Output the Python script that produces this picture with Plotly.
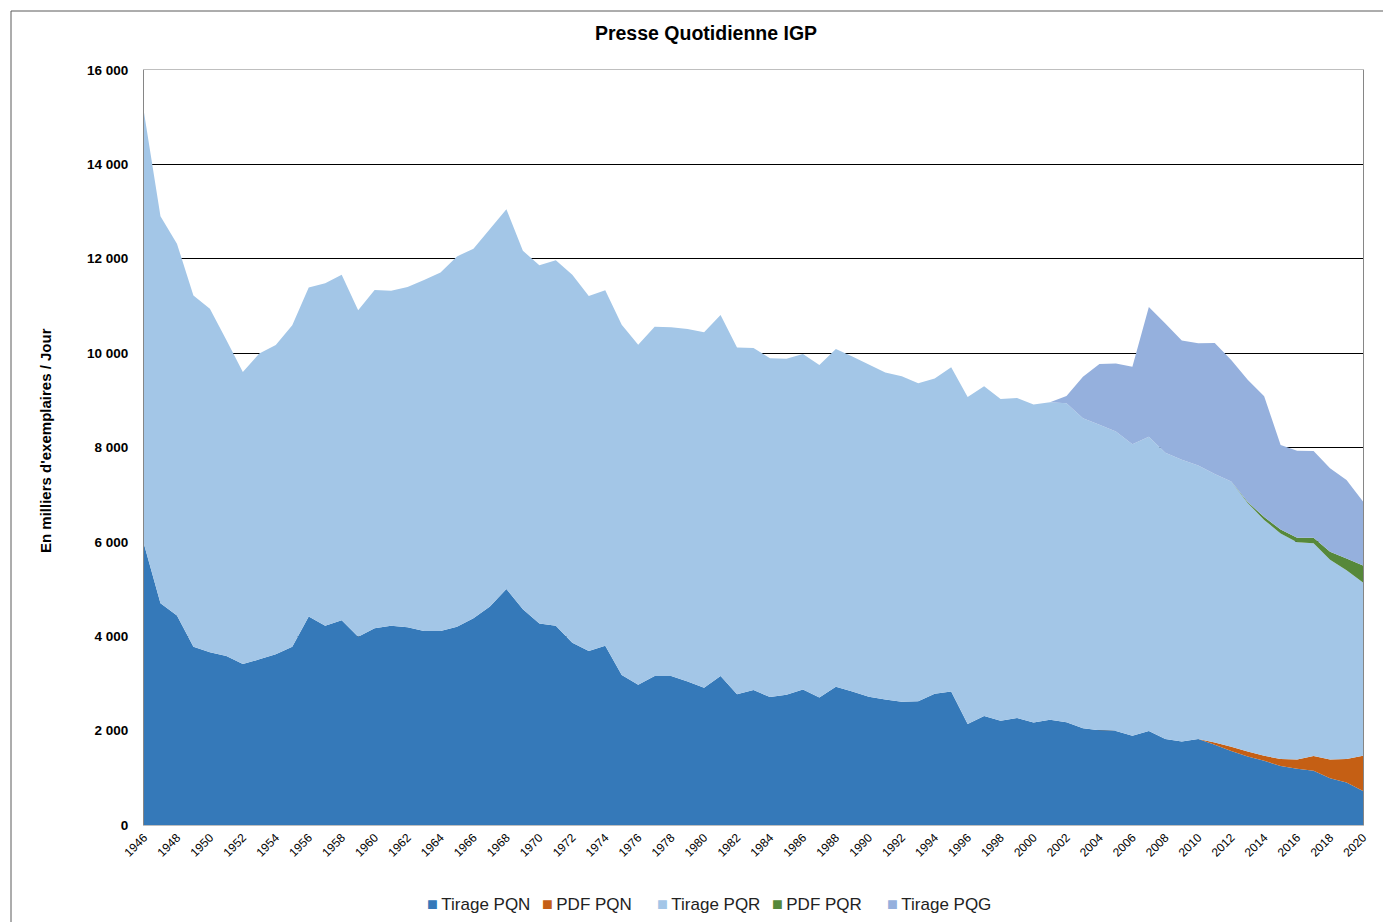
import plotly.graph_objects as go

years = list(range(1946, 2021))

tirage_pqn = [5950, 4700, 4440, 3780, 3660, 3580, 3410, 3510, 3620, 3780,
              4420, 4220, 4340, 3990, 4170, 4220, 4190, 4110, 4110, 4200,
              4380, 4630, 5000, 4570, 4270, 4220, 3860, 3690, 3800, 3180,
              2970, 3160, 3160, 3040, 2910, 3160, 2770, 2860, 2710, 2760,
              2870, 2700, 2930, 2830, 2720, 2660, 2610, 2620, 2780, 2830,
              2140, 2310, 2210, 2270, 2170, 2230, 2180, 2050, 2010, 1990,
              1890, 1990, 1820, 1770, 1820, 1700, 1570, 1450, 1360, 1250,
              1190, 1150, 990, 900, 720]

pdf_pqn = [0] * 64 + [0, 50, 90, 105, 105, 150, 200, 310, 400, 500, 750]

tirage_pqr = [9150, 8200, 7880, 7440, 7280, 6700, 6190, 6480, 6550, 6810,
              6970, 7260, 7320, 6920, 7170, 7100, 7210, 7440, 7600, 7850,
              7830, 8000, 8050, 7600, 7590, 7750, 7800, 7520, 7530, 7420,
              7210, 7400, 7390, 7470, 7530, 7650, 7350, 7250, 7180, 7120,
              7110, 7050, 7160, 7100, 7040, 6930, 6900, 6740, 6680, 6870,
              6930, 6990, 6820, 6780, 6740, 6730, 6760, 6570, 6470, 6350,
              6180, 6240, 6070, 5970, 5800, 5690, 5620, 5270, 5000, 4780,
              4600, 4510, 4230, 4000, 3670]

pdf_pqr = [0] * 66 + [0, 20, 60, 80, 100, 120, 170, 250, 360]

tirage_pqg = [0] * 55 + [0, 150, 880, 1290, 1440, 1640, 2745, 2740, 2525, 2590,
                         2775, 2575, 2590, 2560, 1795, 1840, 1835, 1770, 1660, 1355]

series = [
    ("Tirage PQN", tirage_pqn, "#3579b9"),
    ("PDF PQN", pdf_pqn, "#c55f14"),
    ("Tirage PQR", tirage_pqr, "#a3c6e7"),
    ("PDF PQR", pdf_pqr, "#56883a"),
    ("Tirage PQG", tirage_pqg, "#95b0dd"),
]

fig = go.Figure()
for name, vals, color in series:
    fig.add_trace(go.Scatter(
        x=years, y=vals, name=name, stackgroup="one", mode="none",
        fillcolor=color, line=dict(width=0), showlegend=False,
        hoverinfo="x+y+name"))
# legend entries: coloured square glyph right before the label (Excel style)
for name, vals, color in series:
    label = f"<span style='color:{color};font-size:18px'>\u25A0</span>\u2009{name}"
    fig.add_trace(go.Scatter(
        x=[None], y=[None], name=label, mode="markers",
        marker=dict(symbol="square", size=1, color="rgba(0,0,0,0)"),
        showlegend=True))
# blank spacer entry so the last legend label is not clipped
fig.add_trace(go.Scatter(x=[None], y=[None], name=" ", mode="markers",
                         marker=dict(size=1, color="rgba(0,0,0,0)"),
                         showlegend=True, hoverinfo="skip"))

# page is offset by the default 8px body margin
OFF = 8
W, H = 1391 - OFF, 922 - OFF
L, R, T, B = 144, 1363, 70, 825          # plot area in page pixels
pw, ph = R - L, B - T

def px(xp):
    return (xp - L) / pw

def py(yp):
    return (B - yp) / ph

fig.update_layout(
    width=W, height=H,
    margin=dict(l=L - OFF, r=W + OFF - R, t=T - OFF, b=H + OFF - B, pad=0,
                autoexpand=False),
    paper_bgcolor="white", plot_bgcolor="white",
    separators=", ",
    font=dict(family="Liberation Sans, Arial, sans-serif", color="black"),
    title=dict(text="<b>Presse Quotidienne IGP</b>", x=(706 - OFF) / W, xanchor="center",
               y=1 - (33 - OFF) / H, yanchor="middle", font=dict(size=19.5, color="black")),
    showlegend=True,
    legend=dict(orientation="h", x=px(387), xanchor="left", y=py(904), yanchor="middle",
                font=dict(size=17, color="#222222"), itemwidth=30,
                entrywidth=70, entrywidthmode="pixels",
                traceorder="normal", bgcolor="rgba(0,0,0,0)"),
    xaxis=dict(range=[1946, 2020], tickmode="array", tickvals=years[::2],
               ticktext=[str(y) for y in years[::2]], tickangle=-45,
               tickfont=dict(size=12, color="black"), showgrid=False,
               showline=True, linecolor="#bfbfbf", mirror=True, zeroline=False,
               ticks="", automargin=False),
    yaxis=dict(range=[0, 16000], dtick=2000, tickformat=",d",
               tickfont=dict(size=13.5, color="black", family="Liberation Sans, Arial, sans-serif"),
               showgrid=True, gridcolor="black", gridwidth=1,
               showline=True, linecolor="#868686", mirror=True, zeroline=False,
               ticks="", ticklabelstandoff=12, automargin=False),
    annotations=[dict(text="<b>En milliers d'exemplaires / Jour</b>", textangle=-90,
                      xref="paper", yref="paper", x=px(45), y=py(441),
                      xanchor="center", yanchor="middle", showarrow=False,
                      font=dict(size=15, color="black",
                                family="Liberation Sans Narrow, Liberation Sans, Arial"))],
    shapes=[dict(type="rect", xref="paper", yref="paper",
                 x0=px(11), x1=px(1400), y0=py(935), y1=py(11),
                 line=dict(color="#5a5a5a", width=1), layer="below")],
)

fig.update_yaxes(tickprefix="<b>", ticksuffix="</b>")

fig.write_html("out.html")
